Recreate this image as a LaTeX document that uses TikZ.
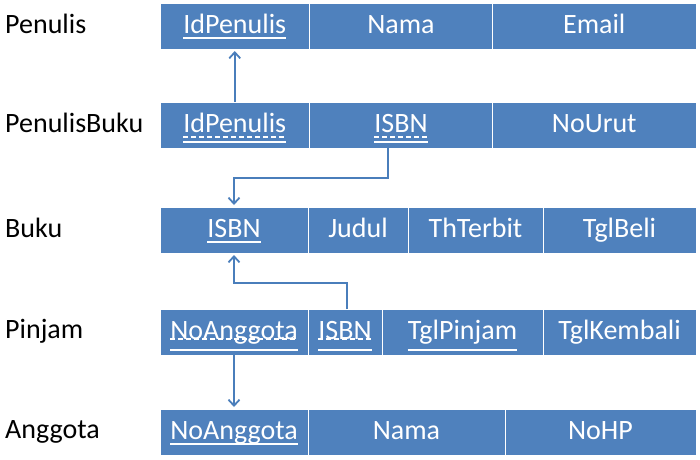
\documentclass[tikz,border=0pt]{standalone}
\usepackage{fontspec}
\setmainfont{Carlito}
\usetikzlibrary{arrows.meta}
\definecolor{cellblue}{HTML}{4F81BD}
\definecolor{arrblue}{HTML}{4A7EBB}
\tikzset{
  cellbox/.style={rectangle, fill=cellblue, draw=white, line width=1pt, minimum height=46pt, inner sep=0pt, outer sep=0pt},
  celltext/.style={anchor=base, inner sep=0pt, text=white, font=\fontsize{28}{34}\selectfont},
  rowlabel/.style={anchor=base west, inner sep=0pt, text=black, font=\fontsize{28}{34}\selectfont},
  ul/.style={draw=white, line width=1.5pt},
  ulda/.style={draw=white, line width=1.5pt, dash pattern=on 5pt off 3pt},
  fk/.style={draw=arrblue, line width=1.8pt, shorten >=2pt, -{Straight Barb[length=6pt,width=11pt]}}
}
\newcommand\mkcell[5]{%
  \node[cellbox, minimum width={(#3-#2)*1pt}, anchor=north west] (#1) at (#2,#4) {};
  \node[celltext] (#1t) at ({(#2+#3)/2},{#4+30}) {#5};}
\begin{document}
\begin{tikzpicture}[x=1pt,y=-1pt]
\useasboundingbox (0,0) rectangle (700,459);
% row labels
\node[rowlabel] (lPenulis) at (5,33) {Penulis};
\node[rowlabel] (lPenulisBuku) at (5,132) {PenulisBuku};
\node[rowlabel] (lBuku) at (5,237) {Buku};
\node[rowlabel] (lPinjam) at (5,338) {Pinjam};
\node[rowlabel] (lAnggota) at (5,438) {Anggota};
% Penulis
\mkcell{pId}{160}{309.5}{3}{IdPenulis}
\mkcell{pNama}{309.5}{492.5}{3}{Nama}
\mkcell{pEmail}{492.5}{696}{3}{Email}
% PenulisBuku
\mkcell{pbId}{160}{309.5}{102}{IdPenulis}
\mkcell{pbIsbn}{309.5}{492.5}{102}{ISBN}
\mkcell{pbUrut}{492.5}{696}{102}{NoUrut}
% Buku
\mkcell{bIsbn}{160}{308}{207}{ISBN}
\mkcell{bJudul}{308}{408}{207}{Judul}
\mkcell{bTh}{408}{543}{207}{ThTerbit}
\mkcell{bTgl}{543}{696}{207}{TglBeli}
% Pinjam
\mkcell{pNo}{160}{308}{309}{NoAnggota}
\mkcell{pIsbn}{308}{382}{309}{ISBN}
\mkcell{pTgl}{382}{543}{309}{TglPinjam}
\mkcell{pKem}{543}{696}{309}{TglKembali}
% Anggota
\mkcell{aNo}{160}{308}{409}{NoAnggota}
\mkcell{aNama}{308}{505}{409}{Nama}
\mkcell{aHp}{505}{696}{409}{NoHP}
% underlines
\draw[ul] (pIdt.west |- 0,38) -- (pIdt.east |- 0,38);
\draw[ulda] (pbIdt.west |- 0,137) -- (pbIdt.east |- 0,137);
\draw[ul] (pbIdt.west |- 0,142) -- (pbIdt.east |- 0,142);
\draw[ulda] (pbIsbnt.west |- 0,137) -- (pbIsbnt.east |- 0,137);
\draw[ul] (pbIsbnt.west |- 0,142) -- (pbIsbnt.east |- 0,142);
\draw[ul] (bIsbnt.west |- 0,242) -- (bIsbnt.east |- 0,242);
\draw[ulda] (pNot.west |- 0,339) -- (pNot.east |- 0,339);
\draw[ul] (pNot.west |- 0,350) -- (pNot.east |- 0,350);
\draw[ulda] (pIsbnt.west |- 0,339) -- (pIsbnt.east |- 0,339);
\draw[ul] (pIsbnt.west |- 0,350) -- (pIsbnt.east |- 0,350);
\draw[ul] (pTglt.west |- 0,350) -- (pTglt.east |- 0,350);
\draw[ul] (aNot.west |- 0,444) -- (aNot.east |- 0,444);
% foreign key connectors
\coordinate (bendA) at (bIsbn.north |- 0,178);
\coordinate (bendB) at (bIsbn.south |- 0,283);
\draw[fk] (pbId.north) -- (pId.south);
\draw[fk] ([xshift=-13pt]pbIsbn.south) |- (bendA) -- (bIsbn.north);
\draw[fk] ([xshift=2pt]pIsbn.north) |- (bendB) -- (bIsbn.south);
\draw[fk] (pNo.south) -- (aNo.north);
\end{tikzpicture}
\end{document}
